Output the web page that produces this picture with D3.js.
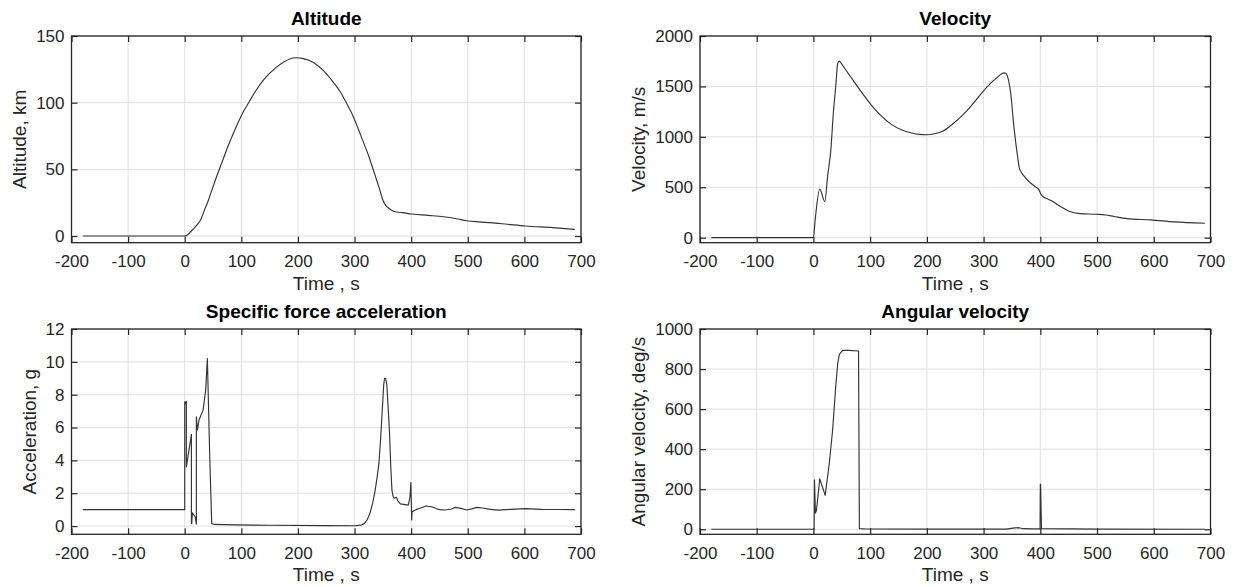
<!DOCTYPE html>
<html>
<head>
<meta charset="utf-8">
<script src="https://cdnjs.cloudflare.com/ajax/libs/d3/7.8.5/d3.min.js"></script>
<style>
  body { margin: 0; background: #fff; }
  svg { display: block; font-family: "Liberation Sans", Arial, Helvetica, sans-serif; }
</style>
</head>
<body>
<svg id="chart" width="1234" height="587"></svg>
<script>
  'use strict';

  // tick labels
  var timeTicks = [-200, -100, 0, 100, 200, 300, 400, 500, 600, 700];
  var altTicks = [0, 50, 100, 150];
  var velTicks = [0, 500, 1000, 1500, 2000];
  var accTicks = [0, 2, 4, 6, 8, 10, 12];
  var angTicks = [0, 200, 400, 600, 800, 1000];

  // Altitude, km
  var altTime = [-180, 0, 3, 10, 21, 28, 35, 42, 48, 55, 62, 70, 76, 83, 90, 97, 104, 115, 125, 140,
    159, 175, 195, 210, 228, 245, 263, 275, 284, 295, 305, 315, 325, 332, 339, 345, 350, 355, 360,
    367, 374, 385, 401, 430, 457, 480, 498, 520, 540, 570, 602, 650, 689];
  var altValue = [0, 0, 0.3, 3, 8, 12, 19.6, 27, 34.6, 43, 51, 60, 67, 74, 81, 87.5, 93.5, 101.5, 108.6, 117.5,
    125.5, 130.5, 133.7, 133, 130, 124, 115, 108, 101, 92, 82, 71, 60, 51, 42, 34, 27, 23, 21,
    19, 18, 17.5, 16.5, 15.5, 14.5, 13, 11.5, 10.6, 10, 8.8, 7.5, 6.3, 5];

  // Velocity, m/s
  var velTime = [-180, 0, 3, 11.2, 20, 25, 30.7, 35, 39.6, 42.5, 45.5, 51.4, 60, 70, 85, 100, 120, 138,
    155, 173, 187, 200, 213, 228, 245, 263, 280, 297, 312, 325, 332, 335.5, 339, 342, 346, 349, 352, 356, 360,
    363, 370, 380, 390, 397.7, 401, 404.6, 412, 422, 435, 449.6, 470, 498, 515, 530, 553, 595, 636, 690];
  var velValue = [0, 0, 176, 481, 358, 610, 873, 1230, 1519, 1718, 1751, 1708, 1640, 1560, 1440, 1330, 1205, 1121,
    1070, 1038, 1024, 1021, 1030, 1055, 1125, 1215, 1320, 1436, 1530, 1595, 1625, 1635, 1630, 1602, 1500, 1370, 1180, 972, 800,
    690, 620, 557, 510, 474, 430, 408, 385, 358, 310, 265, 239, 232, 225, 210, 189, 176, 156, 143];

  // Specific force acceleration, g
  var accTime = [-180, 0, 0, 1.8, 2.9, 2.9, 11.8, 11.8, 12.4, 13.6, 18.3, 20.6, 20.6, 22.4, 25.3, 32.4, 37, 40,
    44.2, 47.7, 53, 90, 150, 250, 300, 311.6, 317, 322, 327, 332, 336, 340, 343, 346, 348, 350, 351.5, 353, 355,
    357, 359, 361.6, 364, 366, 368, 370, 374, 377, 381, 395, 398, 399.5, 401, 401.6, 408.5, 418, 425.8, 436, 450,
    460, 471, 478, 488, 498, 507, 516, 526, 540, 554, 574.7, 602, 630, 660, 689];
  var accValue = [1.0, 1.0, 7.57, 7.47, 7.6, 3.6, 5.58, 0.16, 0.16, 0.81, 0.57, 0.12, 6.66, 5.85, 6.46, 7.06, 8.28, 10.2,
    4.2, 0.15, 0.1, 0.07, 0.05, 0.03, 0.02, 0.06, 0.15, 0.37, 0.75, 1.4, 2.1, 3.0, 3.8, 5.3, 6.5, 7.7, 8.6, 9.0, 9.0,
    8.6, 7.4, 5.8, 3.6, 2.2, 1.8, 1.7, 1.75, 1.5, 1.35, 1.28, 1.8, 2.65, 0.37, 0.87, 1.0, 1.12, 1.22, 1.18, 1.0,
    0.98, 1.04, 1.14, 1.08, 0.98, 1.05, 1.14, 1.1, 1.02, 0.97, 1.02, 1.06, 1.02, 1.01, 1.0];

  // Angular velocity, deg/s
  var angTime = [-180, 0, 1.2, 1.8, 3.5, 5.3, 11.2, 16, 20.7, 27.8, 33.7, 39.6, 42.6, 45.6, 51.5, 63.3, 78, 79.5,
    81, 90, 200, 340, 355, 362, 370, 385, 399.5, 400, 400.5, 402, 500, 690];
  var angValue = [0, 0, 0, 247, 81, 94, 252, 210, 169, 326, 492, 724, 823, 873, 893, 893, 890, 890,
    3, 2, 1, 1, 7, 8, 3, 2, 2, 225, 225, 3, 1, 0];

  var panels = [
    { title: 'Altitude', ylabel: 'Altitude, km', t: altTime, v: altValue, yDomain: [-5, 150], yTicks: altTicks, smooth: true },
    { title: 'Velocity', ylabel: 'Velocity, m/s', t: velTime, v: velValue, yDomain: [-50, 2000], yTicks: velTicks, smooth: true },
    { title: 'Specific force acceleration', ylabel: 'Acceleration, g', t: accTime, v: accValue, yDomain: [-0.5, 12], yTicks: accTicks, smooth: false },
    { title: 'Angular velocity', ylabel: 'Angular velocity, deg/s', t: angTime, v: angValue, yDomain: [-25, 1000], yTicks: angTicks, smooth: false }
  ];

  // axes boxes in pixels: left, top, right, bottom
  var layout = [
    [71.5, 36, 581, 242.7],
    [700, 36, 1210.5, 242.7],
    [71.5, 329, 581, 534.3],
    [700, 329, 1210.5, 534.3]
  ];

  var axisColor = '#262626';
  var tickLen = 6;
  var tickFont = 17;
  var labelFont = 19;

  var svg = d3.select('#chart');

  var fmt = function(d) {
    return String(d);
  };

  panels.forEach(function(p, k) {
    var box = layout[k];
    var w = box[2] - box[0];
    var h = box[3] - box[1];

    var x = d3.scaleLinear().domain([-200, 700]).range([0, w]);
    var y = d3.scaleLinear().domain(p.yDomain).range([h, 0]);

    var g = svg.append('g').attr('transform', 'translate(' + box[0] + ',' + box[1] + ')');

    // grid
    g.append('g').selectAll('line')
      .data(timeTicks)
      .enter()
      .append('line')
      .attr('x1', function(d) { return x(d); })
      .attr('x2', function(d) { return x(d); })
      .attr('y1', 0)
      .attr('y2', h)
      .attr('stroke', '#e0e0e0')
      .attr('stroke-width', 1);

    g.append('g').selectAll('line')
      .data(p.yTicks)
      .enter()
      .append('line')
      .attr('y1', function(d) { return y(d); })
      .attr('y2', function(d) { return y(d); })
      .attr('x1', 0)
      .attr('x2', w)
      .attr('stroke', '#e0e0e0')
      .attr('stroke-width', 1);

    // data line
    var line = d3.line()
      .x(function(d) { return x(d[0]); })
      .y(function(d) { return y(d[1]); })
      .curve(p.smooth ? d3.curveMonotoneX : d3.curveLinear);

    g.append('path')
      .datum(d3.zip(p.t, p.v))
      .attr('d', line)
      .attr('fill', 'none')
      .attr('stroke', '#333')
      .attr('stroke-width', 1.15)
      .attr('stroke-linejoin', 'round');

    // axes with inward ticks on all four sides
    var styleAxis = function(sel) {
      sel.attr('font-family', null).attr('font-size', tickFont);
      sel.select('.domain').remove();
      sel.selectAll('.tick line').attr('stroke', axisColor).attr('stroke-width', 1.2);
      sel.selectAll('.tick text').attr('fill', axisColor);
    };

    g.append('g')
      .attr('transform', 'translate(0,' + h + ')')
      .call(d3.axisBottom(x).tickValues(timeTicks).tickSize(-tickLen).tickPadding(12.5).tickFormat(fmt))
      .call(styleAxis);

    g.append('g')
      .call(d3.axisTop(x).tickValues(timeTicks).tickSize(-tickLen).tickFormat(''))
      .call(styleAxis);

    var yAxis = g.append('g')
      .call(d3.axisLeft(y).tickValues(p.yTicks).tickSize(-tickLen).tickPadding(7).tickFormat(fmt))
      .call(styleAxis);

    g.append('g')
      .attr('transform', 'translate(' + w + ',0)')
      .call(d3.axisRight(y).tickValues(p.yTicks).tickSize(-tickLen).tickFormat(''))
      .call(styleAxis);

    g.append('rect')
      .attr('width', w)
      .attr('height', h)
      .attr('fill', 'none')
      .attr('stroke', axisColor)
      .attr('stroke-width', 1.3);

    // title
    g.append('text')
      .attr('x', w / 2)
      .attr('y', -11)
      .attr('text-anchor', 'middle')
      .attr('font-size', labelFont)
      .attr('font-weight', 'bold')
      .attr('fill', '#000')
      .text(p.title);

    // x label
    g.append('text')
      .attr('x', w / 2)
      .attr('y', h + 47)
      .attr('text-anchor', 'middle')
      .attr('font-size', labelFont)
      .attr('fill', axisColor)
      .text('Time , s');

    // y label placed left of the widest tick label
    var maxW = 0;
    yAxis.selectAll('.tick text').each(function() {
      maxW = Math.max(maxW, this.getBBox().width);
    });
    var lx = -7 - maxW - 16.5;

    g.append('text')
      .attr('transform', 'translate(' + lx + ',' + (h / 2) + ') rotate(-90)')
      .attr('dy', '0.35em')
      .attr('text-anchor', 'middle')
      .attr('font-size', labelFont)
      .attr('fill', axisColor)
      .text(p.ylabel);
  });
</script>
</body>
</html>
